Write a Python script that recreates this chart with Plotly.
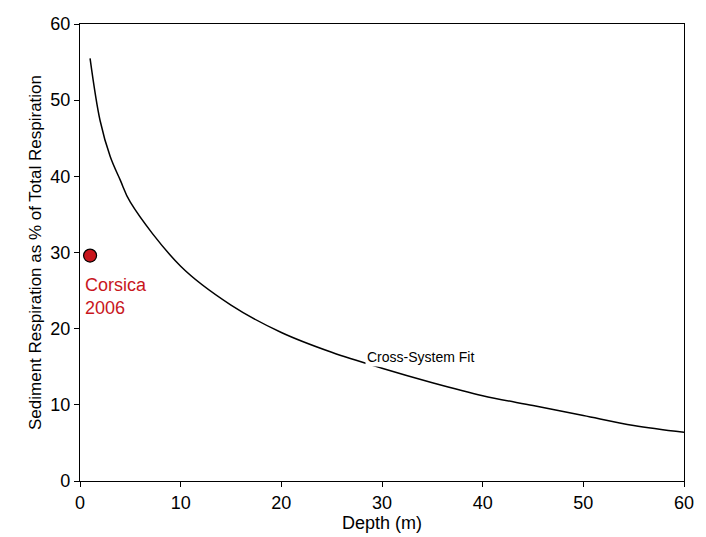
import plotly.graph_objects as go

depth = [1, 2, 3, 4, 5, 10, 15, 20, 25, 30, 35, 40, 45, 50, 55, 60]
sed_pct = [55.5, 47.3, 42.6, 39.5, 36.6, 28.2, 23.1, 19.5, 16.9, 14.8, 12.9, 11.2, 9.9, 8.6, 7.3, 6.4]

corsica_depth = [1]
corsica_pct = [29.6]

fig = go.Figure()
fig.add_trace(go.Scatter(x=depth, y=sed_pct, mode="lines",
                         line=dict(color="black", width=1.5), line_shape="spline"))
fig.add_trace(go.Scatter(x=corsica_depth, y=corsica_pct, mode="markers",
                         marker=dict(color="#c8161d", size=13, line=dict(color="black", width=1.2))))

fig.add_annotation(x=0.3, y=27.3, text="Corsica<br>2006", showarrow=False,
                   xanchor="left", yanchor="top", align="left",
                   font=dict(color="#c8161d", size=18))
fig.add_annotation(x=28.3, y=16.3, text="Cross-System Fit", showarrow=False,
                   xanchor="left", yanchor="middle",
                   font=dict(color="black", size=14), bgcolor="white")

axis = dict(showgrid=False, zeroline=False, showline=True, linecolor="black", linewidth=1.2,
            mirror=True, ticks="outside", ticklen=5, tickcolor="black",
            tickfont=dict(size=18, color="black"), automargin=False, ticklabeloverflow="allow")
fig.update_xaxes(range=[0, 60], dtick=10, title=dict(text="Depth (m)", font=dict(size=18), standoff=2), **axis)
fig.update_yaxes(range=[0, 60], dtick=10,
                 title=dict(text="Sediment Respiration as % of Total Respiration", font=dict(size=17), standoff=4), **axis)

fig.update_layout(width=706, height=537, showlegend=False, plot_bgcolor="white", paper_bgcolor="white",
                  font=dict(family="Liberation Sans, Arial, sans-serif", color="black"),
                  margin=dict(l=72, r=30, t=16, b=64))
fig.write_html("out.html")
